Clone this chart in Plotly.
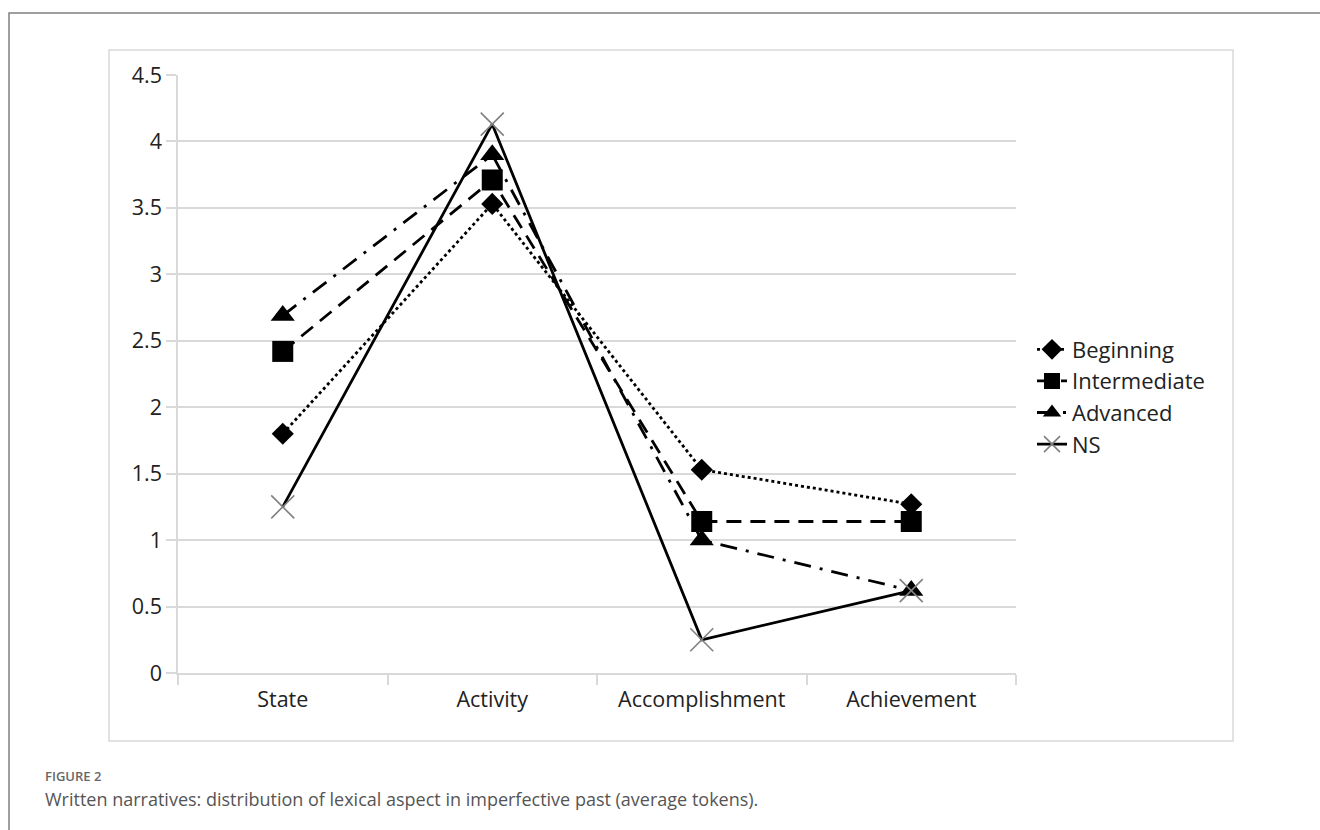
import plotly.graph_objects as go

# Lexical aspect categories and average token counts per proficiency group
categories = ["State", "Activity", "Accomplishment", "Achievement"]
beginning = [1.80, 3.53, 1.53, 1.27]
intermediate = [2.42, 3.71, 1.14, 1.14]
advanced = [2.69, 3.90, 1.00, 0.62]
native = [1.25, 4.13, 0.25, 0.62]

y_ticks = [0, 0.5, 1, 1.5, 2, 2.5, 3, 3.5, 4, 4.5]

W, H = 1320, 830
L, R, T, B = 178, 1016, 75, 673

TICK_FONT = dict(family="Open Sans", size=21.5, color="#222222")


def px_x(px):
    return (px - L) / (R - L)


def px_y(py):
    return (B - py) / (B - T)


fig = go.Figure()

fig.add_trace(go.Scatter(
    x=categories, y=beginning, name="Beginning", mode="lines+markers",
    line=dict(color="black", width=2.8, dash="dot"),
    marker=dict(symbol="diamond", size=17, color="black"),
))
fig.add_trace(go.Scatter(
    x=categories, y=intermediate, name="Intermediate", mode="lines+markers",
    line=dict(color="black", width=2.8, dash="15px,9px"),
    marker=dict(symbol="square", size=21, color="black"),
))
fig.add_trace(go.Scatter(
    x=categories, y=advanced, name="Advanced", mode="lines+markers",
    line=dict(color="black", width=2.8, dash="17px,9px,3px,9px"),
    marker=dict(symbol="triangle-up", size=21, color="black"),
))
fig.add_trace(go.Scatter(
    x=categories, y=native, name="NS", mode="lines+markers",
    line=dict(color="black", width=2.8),
    marker=dict(symbol="x-thin", size=23, color="#808080",
                line=dict(width=1.6, color="#808080")),
))

# outer figure frame and inner chart box
shapes = [
    dict(type="rect", xref="paper", yref="paper",
         x0=px_x(9), x1=px_x(1335), y0=px_y(845), y1=px_y(13),
         line=dict(color="#808080", width=1.5), fillcolor="rgba(0,0,0,0)", layer="below"),
    dict(type="rect", xref="paper", yref="paper",
         x0=px_x(109), x1=px_x(1233), y0=px_y(741), y1=px_y(50),
         line=dict(color="#d9d9d9", width=1.5), fillcolor="rgba(0,0,0,0)", layer="below"),
]

annotations = [
    dict(text="FIGURE 2", xref="paper", yref="paper", x=px_x(43), y=px_y(776),
         xanchor="left", yanchor="middle", showarrow=False,
         font=dict(family="Open Sans", size=13, color="#666666", weight=600)),
    dict(text="Written narratives: distribution of lexical aspect in imperfective past (average tokens).",
         xref="paper", yref="paper", x=px_x(43), y=px_y(799),
         xanchor="left", yanchor="middle", showarrow=False,
         font=dict(family="Open Sans", size=18, color="#555555")),
]

fig.update_layout(
    width=W, height=H,
    margin=dict(l=L, r=W - R, t=T, b=H - B),
    paper_bgcolor="white", plot_bgcolor="white",
    font=TICK_FONT,
    shapes=shapes, annotations=annotations,
    legend=dict(x=px_x(1032), y=px_y(397), xanchor="left", yanchor="middle",
                font=dict(family="Open Sans", size=22, color="#222222"),
                bgcolor="rgba(0,0,0,0)", itemwidth=30, tracegroupgap=0),
    showlegend=True,
)

fig.update_xaxes(
    type="category", categoryorder="array", categoryarray=categories,
    range=[-0.5, 3.5], showgrid=False, showline=True, linecolor="#d9d9d9", linewidth=1.5,
    ticks="outside", tickson="boundaries", ticklen=10, tickcolor="#d9d9d9", tickwidth=1.5,
    ticklabelstandoff=6, tickfont=TICK_FONT, zeroline=False,
)
fig.update_yaxes(
    range=[0, 4.5], tickvals=y_ticks, ticktext=[f"{v:g}" for v in y_ticks],
    showgrid=True, gridcolor="#d9d9d9", gridwidth=1.5,
    showline=True, linecolor="#d9d9d9", linewidth=1.5,
    ticks="outside", ticklen=10, tickcolor="#d9d9d9", tickwidth=1.5,
    tickfont=TICK_FONT, zeroline=False,
)

fig.write_html("out.html")
